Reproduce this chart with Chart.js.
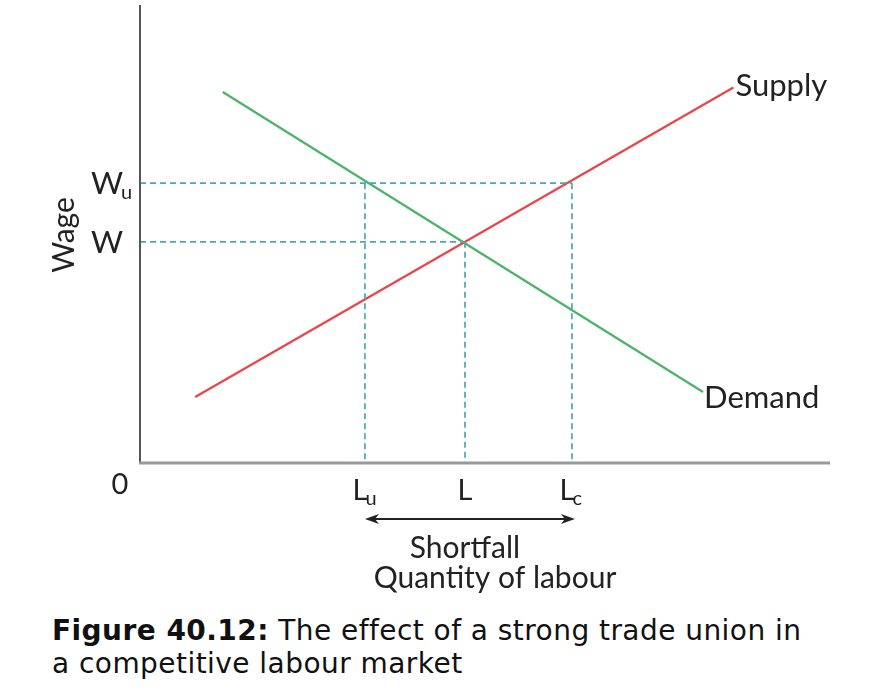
<!DOCTYPE html>
<html>
<head>
<meta charset="utf-8">
<script src="https://cdn.jsdelivr.net/npm/chart.js@4.4.1/dist/chart.umd.min.js"></script>
<style>
  body { margin: 0; background: #fff; }
  #wrap { position: relative; width: 890px; height: 695px; }
  #caption {
    position: absolute; left: 52px; top: 614px;
    font-family: "DejaVu Sans", sans-serif;
    font-size: 28px; line-height: 33px; color: #111;
    letter-spacing: 0.45px; white-space: nowrap;
  }
</style>
</head>
<body>
<div id="wrap">
  <canvas id="myChart" width="890" height="600"></canvas>
  <div id="caption"><b>Figure 40.12:</b> The effect of a strong trade union in<br>a competitive labour market</div>
</div>
<script>
// Curves (quantity, wage)
const supplyX = [8, 86];
const supplyY = [14.4, 82];
const demandX = [12, 81.6];
const demandY = [81, 15.5];

// Marked quantities and wages
const qNames = ["L", "u", "L", "", "L", "c"]; // base + subscript pairs
const qValues = [32.6, 47.1, 62.6]; // Lu, L, Lc
const wNames = ["W", "", "W", "u"];
const wValues = [48.3, 61.1]; // W, Wu

const curveLabels = ["Supply", "Demand"];

const dashColor = "#4aa8b0";

function pts(xs, ys) {
  return xs.map((x, i) => ({ x: x, y: ys[i] }));
}

function dashed(points) {
  return {
    data: points,
    borderColor: dashColor,
    borderWidth: 1.7,
    borderDash: [6, 4],
    pointRadius: 0,
    fill: false,
  };
}

const Lu = qValues[0], L = qValues[1], Lc = qValues[2];
const W = wValues[0], Wu = wValues[1];

const datasets = [
  dashed([{ x: 0, y: Wu }, { x: Lc, y: Wu }]),
  dashed([{ x: 0, y: W }, { x: L, y: W }]),
  dashed([{ x: Lu, y: Wu }, { x: Lu, y: 0 }]),
  dashed([{ x: L, y: W }, { x: L, y: 0 }]),
  dashed([{ x: Lc, y: Wu }, { x: Lc, y: 0 }]),
  {
    label: "Supply",
    data: pts(supplyX, supplyY),
    borderColor: "#e9454b",
    borderWidth: 2.3,
    pointRadius: 0,
  },
  {
    label: "Demand",
    data: pts(demandX, demandY),
    borderColor: "#4db36c",
    borderWidth: 2.3,
    pointRadius: 0,
  },
];

const labelFont = '"Lato", "Open Sans", sans-serif';

// draws axes, labels and the shortfall arrow
const decorations = {
  id: "decorations",
  afterDatasetsDraw(chart) {
    const ctx = chart.ctx;
    const xs = chart.scales.x;
    const ys = chart.scales.y;
    const a = chart.chartArea;
    ctx.save();

    // axes
    ctx.strokeStyle = "#555";
    ctx.lineWidth = 2;
    ctx.beginPath();
    ctx.moveTo(a.left, a.top);
    ctx.lineTo(a.left, a.bottom);
    ctx.stroke();
    ctx.strokeStyle = "#999";
    ctx.lineWidth = 3;
    ctx.beginPath();
    ctx.moveTo(a.left - 1, a.bottom);
    ctx.lineTo(a.right, a.bottom);
    ctx.stroke();

    ctx.fillStyle = "#222";
    ctx.textBaseline = "alphabetic";

    // origin
    ctx.font = "29px " + labelFont;
    ctx.textAlign = "center";
    ctx.fillText("0", 120, 494);

    // wage labels with subscripts
    for (let i = 0; i < wValues.length; i++) {
      const y = ys.getPixelForValue(wValues[i]);
      ctx.font = "31px " + labelFont;
      ctx.textAlign = "left";
      ctx.fillText(wNames[i * 2], 91, y + 11);
      if (wNames[i * 2 + 1]) {
        const w = ctx.measureText(wNames[i * 2]).width;
        ctx.font = "20px " + labelFont;
        ctx.fillText(wNames[i * 2 + 1], 91 + w - 2, y + 16);
      }
    }

    // quantity labels with subscripts
    for (let i = 0; i < qValues.length; i++) {
      const x = xs.getPixelForValue(qValues[i]);
      ctx.font = "29px " + labelFont;
      ctx.textAlign = "left";
      const w = ctx.measureText(qNames[i * 2]).width;
      const sub = qNames[i * 2 + 1];
      const x0 = sub ? x - w / 2 - 5 : x - w / 2;
      ctx.fillText(qNames[i * 2], x0, 500);
      if (sub) {
        ctx.font = "20px " + labelFont;
        ctx.fillText(sub, x0 + w - 2, 505);
      }
    }

    // axis title
    ctx.save();
    ctx.translate(74, 235);
    ctx.rotate(-Math.PI / 2);
    ctx.font = "30px " + labelFont;
    ctx.textAlign = "center";
    ctx.fillText("Wage", 0, 0);
    ctx.restore();

    // curve labels
    ctx.font = "31px " + labelFont;
    ctx.textAlign = "left";
    const sEnd = supplyX.length - 1;
    ctx.fillText(curveLabels[0], xs.getPixelForValue(supplyX[sEnd]) + 2, ys.getPixelForValue(supplyY[sEnd]) + 9);
    const dEnd = demandX.length - 1;
    ctx.fillText(curveLabels[1], xs.getPixelForValue(demandX[dEnd]) + 1, ys.getPixelForValue(demandY[dEnd]) + 16);

    // shortfall arrow
    const ax1 = xs.getPixelForValue(Lu);
    const ax2 = xs.getPixelForValue(Lc) + 3;
    const ay = 519;
    ctx.strokeStyle = "#222";
    ctx.lineWidth = 2;
    ctx.beginPath();
    ctx.moveTo(ax1 + 6, ay);
    ctx.lineTo(ax2 - 6, ay);
    ctx.stroke();
    ctx.beginPath();
    ctx.moveTo(ax1, ay);
    ctx.lineTo(ax1 + 14, ay - 5);
    ctx.lineTo(ax1 + 10, ay);
    ctx.lineTo(ax1 + 14, ay + 5);
    ctx.closePath();
    ctx.fill();
    ctx.beginPath();
    ctx.moveTo(ax2, ay);
    ctx.lineTo(ax2 - 14, ay - 5);
    ctx.lineTo(ax2 - 10, ay);
    ctx.lineTo(ax2 - 14, ay + 5);
    ctx.closePath();
    ctx.fill();

    ctx.font = "30px " + labelFont;
    ctx.textAlign = "center";
    ctx.fillText("Shortfall", xs.getPixelForValue(L), 558);
    ctx.fillText("Quantity of labour", 495, 588);

    ctx.restore();
  },
};

new Chart(document.getElementById("myChart"), {
  type: "line",
  data: { datasets: datasets },
  options: {
    responsive: false,
    animation: false,
    layout: { padding: { left: 140, right: 60, top: 5, bottom: 137 } },
    plugins: { legend: { display: false }, tooltip: { enabled: false } },
    scales: {
      x: { type: "linear", min: 0, max: 100, display: false },
      y: { type: "linear", min: 0, max: 100, display: false },
    },
  },
  plugins: [decorations],
});
</script>
</body>
</html>
